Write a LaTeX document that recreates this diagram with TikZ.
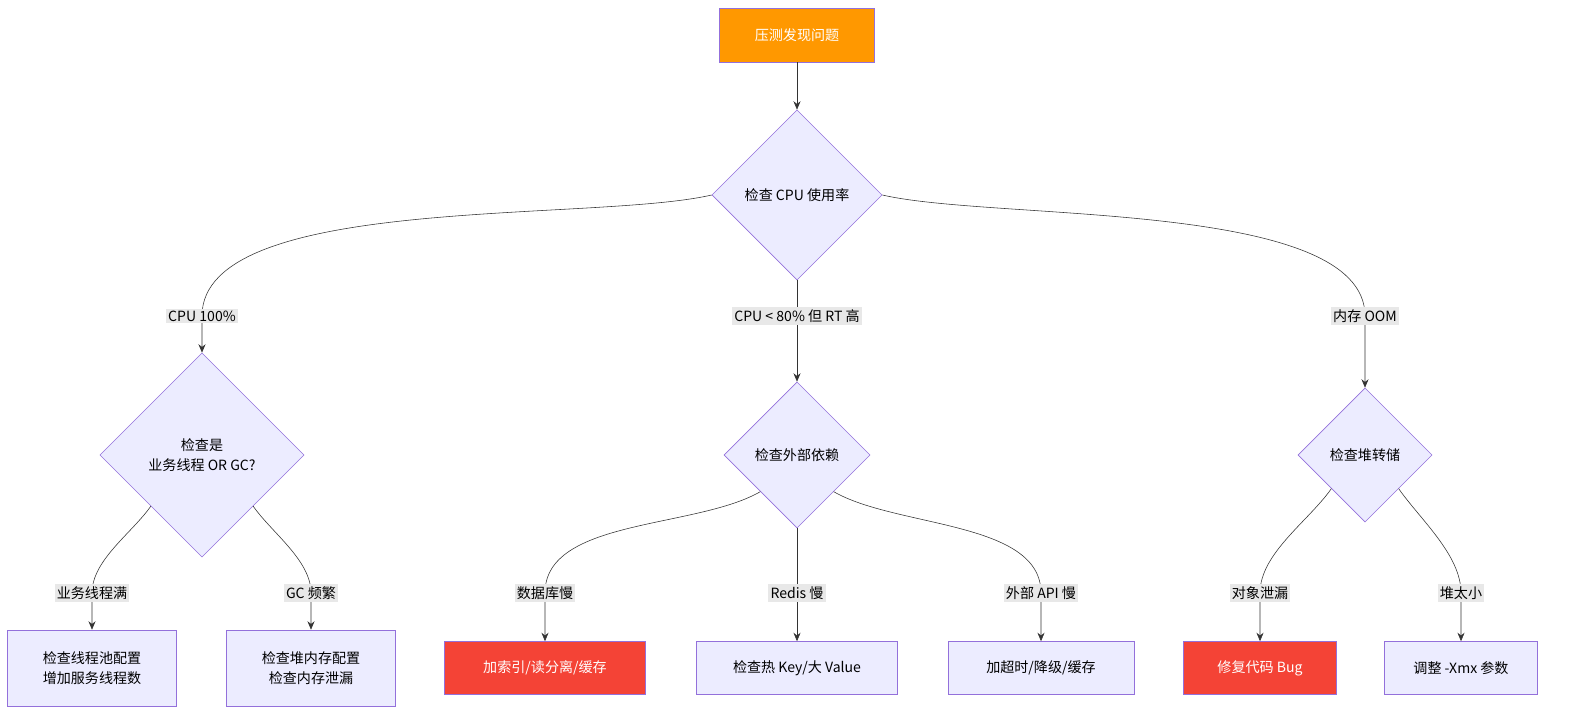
\documentclass[tikz,border=0pt]{standalone}
\usepackage{fontspec}
\setmainfont{Noto Sans CJK SC}
\usetikzlibrary{shapes.geometric,arrows.meta}
\definecolor{boxfill}{HTML}{ECECFF}
\definecolor{boxline}{HTML}{9370DB}
\definecolor{hot}{HTML}{F44336}
\definecolor{start}{HTML}{FF9800}
\definecolor{edge}{HTML}{333333}
\definecolor{lblbg}{HTML}{E8E8E8}

\begin{document}
\begin{tikzpicture}[x=0.025cm,y=-0.025cm,
  font=\fontsize{10}{14}\selectfont,
  box/.style={draw=boxline,fill=boxfill,align=center,inner sep=0pt},
  decide/.style={diamond,draw=boxline,fill=boxfill,align=center,inner sep=0pt,aspect=1},
  lbl/.style={fill=lblbg,inner sep=1.5pt},
  link/.style={draw=edge,-{Stealth[length=6pt,width=5pt]}}]
\useasboundingbox (0,0) rectangle (1585,727);
% nodes
\node[box,fill=start,text=white,minimum width=3.875cm,minimum height=1.35cm] (start) at (797,35) {压测发现问题};
\node[decide,minimum size=4.25cm] (cpu) at (797,195) {检查 CPU 使用率};
\node[decide,minimum size=5.1cm] (kind) at (202,455) {检查是\\业务线程 OR GC?};
\node[decide,minimum size=3.65cm] (ext) at (797,455) {检查外部依赖};
\node[decide,minimum size=3.35cm] (heap) at (1365,455) {检查堆转储};

\node[box,minimum width=4.225cm,minimum height=1.9cm] (pool) at (92,668) {检查线程池配置\\增加服务线程数};
\node[box,minimum width=4.225cm,minimum height=1.9cm] (gc) at (311,668) {检查堆内存配置\\检查内存泄漏};
\node[box,fill=hot,text=white,minimum width=5.025cm,minimum height=1.325cm] (idx) at (545,668) {加索引/读分离/缓存};
\node[box,minimum width=5.025cm,minimum height=1.325cm] (hotkey) at (797,668) {检查热 Key/大 Value};
\node[box,minimum width=4.65cm,minimum height=1.325cm] (tmo) at (1041,668) {加超时/降级/缓存};
\node[box,fill=hot,text=white,minimum width=3.825cm,minimum height=1.325cm] (fix) at (1260,668) {修复代码 Bug};
\node[box,minimum width=3.825cm,minimum height=1.325cm] (xmx) at (1461,668) {调整 -Xmx 参数};

% edge label positions
\coordinate (c1) at (202,316);
\coordinate (c2) at (797,316);
\coordinate (c3) at (1365,316);
\coordinate (c4) at (92,593);
\coordinate (c5) at (311,593);
\coordinate (c6) at (545,593);
\coordinate (c7) at (797,593);
\coordinate (c8) at (1041,593);
\coordinate (c9) at (1260,593);
\coordinate (c10) at (1461,593);

% connectors
\draw[link] (start) -- (cpu);
\draw[link] (cpu.west) to[out=-167,in=90,looseness=0.6] (c1) -- (kind.north);
\draw[link] (cpu.south) -- (ext.north);
\draw[link] (cpu.east) to[out=-13,in=90,looseness=0.6] (c3) -- (heap.north);
\draw[link] (kind.south west) to[out=-125,in=90,looseness=0.8] (c4) -- (pool.north);
\draw[link] (kind.south east) to[out=-55,in=90,looseness=0.8] (c5) -- (gc.north);
\draw[link] (ext.south west) to[out=-150,in=90,looseness=0.8] (c6) -- (idx.north);
\draw[link] (ext.south) -- (hotkey.north);
\draw[link] (ext.south east) to[out=-30,in=90,looseness=0.8] (c8) -- (tmo.north);
\draw[link] (heap.south west) to[out=-125,in=90,looseness=0.8] (c9) -- (fix.north);
\draw[link] (heap.south east) to[out=-55,in=90,looseness=0.8] (c10) -- (xmx.north);

% edge labels
\node[lbl] (l1) at (c1) {CPU 100\%};
\node[lbl] (l2) at (c2) {CPU < 80\% 但 RT 高};
\node[lbl] (l3) at (c3) {内存 OOM};
\node[lbl] (l4) at (c4) {业务线程满};
\node[lbl] (l5) at (c5) {GC 频繁};
\node[lbl] (l6) at (c6) {数据库慢};
\node[lbl] (l7) at (c7) {Redis 慢};
\node[lbl] (l8) at (c8) {外部 API 慢};
\node[lbl] (l9) at (c9) {对象泄漏};
\node[lbl] (l10) at (c10) {堆太小};
\end{tikzpicture}
\end{document}
